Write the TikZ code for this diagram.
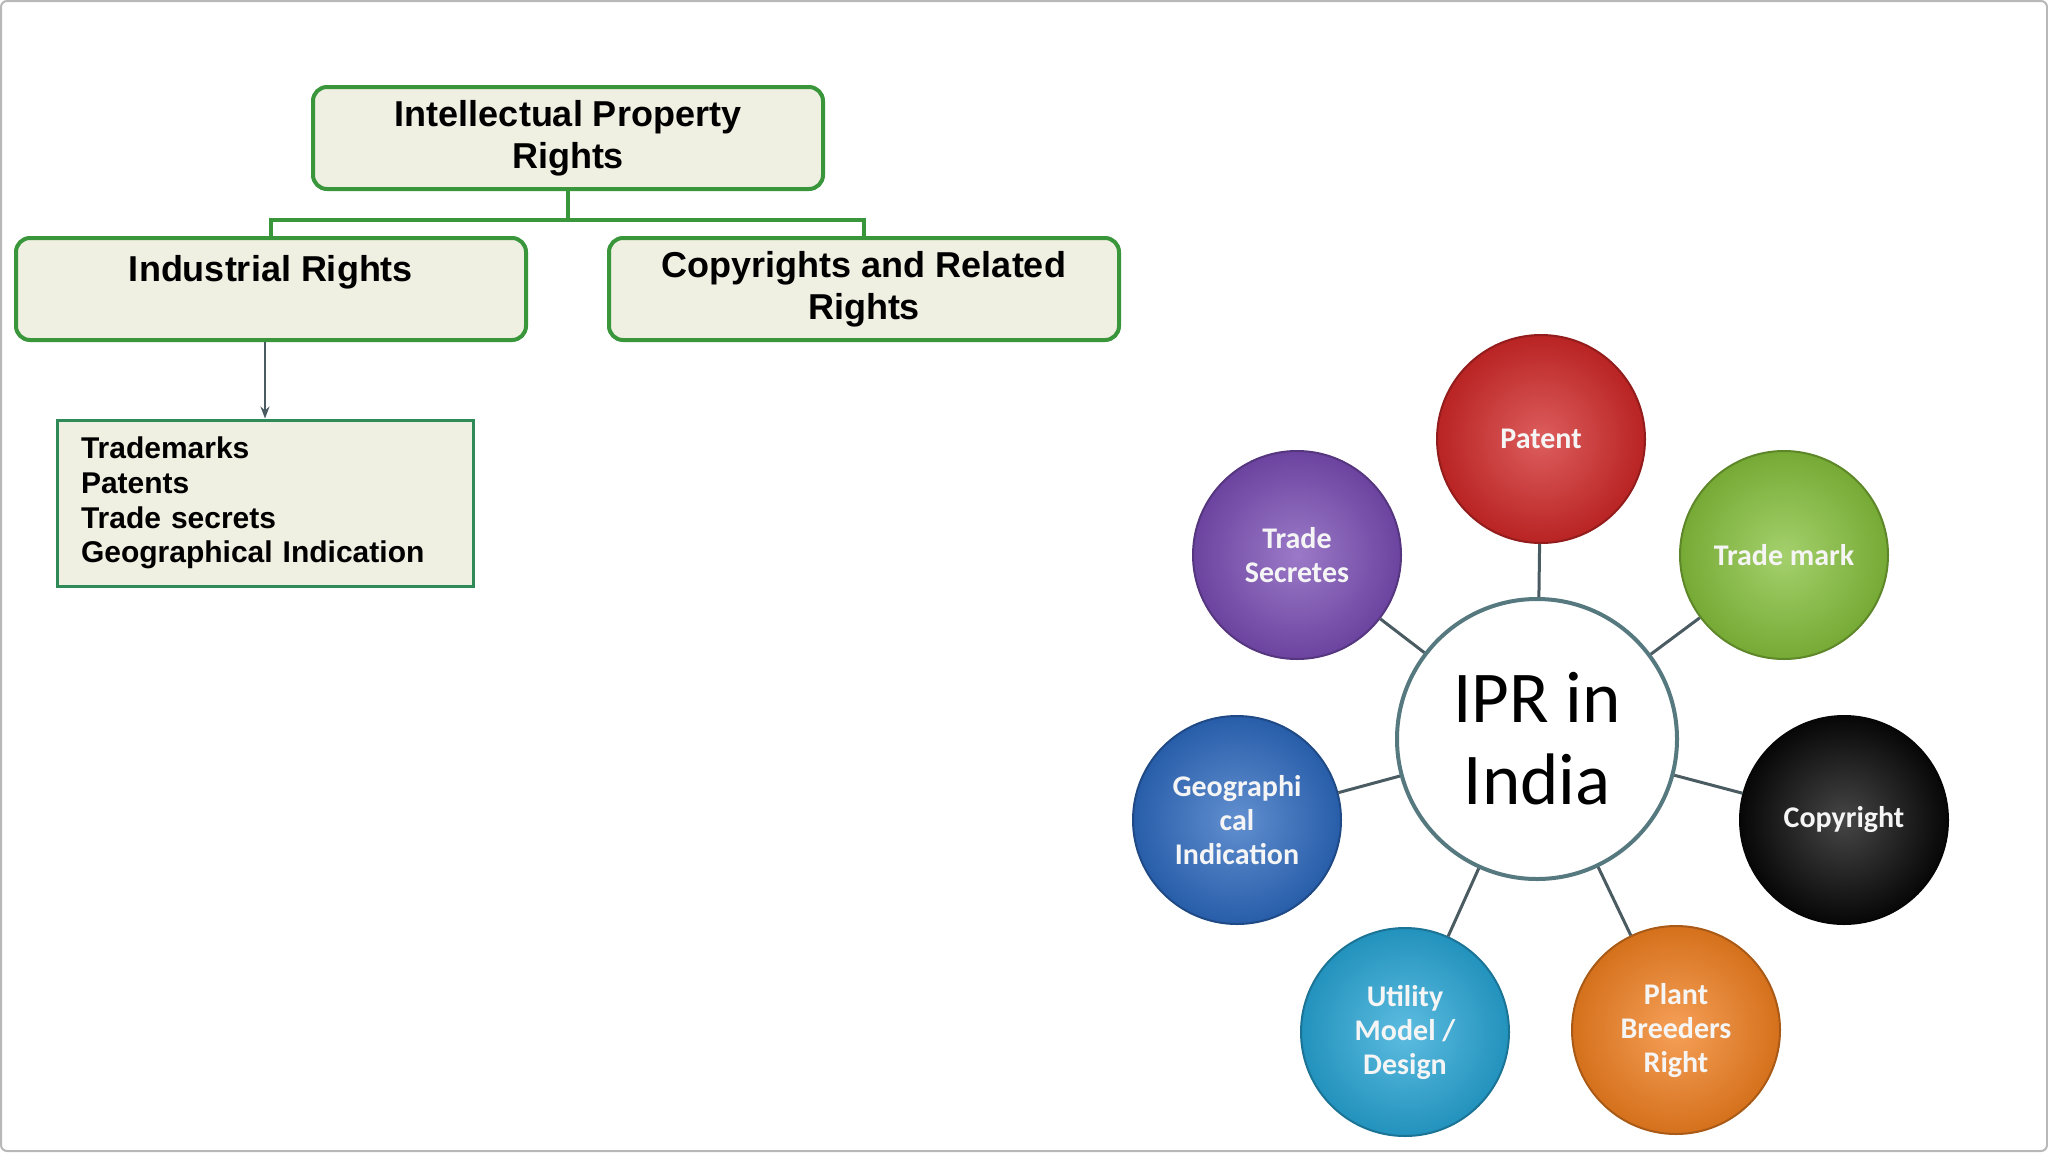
\documentclass[tikz,border=0pt]{standalone}
\usepackage{fontspec}
\setmainfont{Liberation Sans}
\newfontfamily\calfont{Carlito}
\usetikzlibrary{arrows.meta}

\definecolor{boxfill}{HTML}{EFEFE2}
\definecolor{boxgreen}{HTML}{3A963A}
\definecolor{listgreen}{HTML}{2E8B57}
\definecolor{spokegray}{HTML}{4B5B62}
\definecolor{hubrim}{HTML}{56787F}
\definecolor{framegray}{HTML}{B8B8B8}
\definecolor{patentred}{HTML}{D22828}
\definecolor{markgreen}{HTML}{86C13C}
\definecolor{copyblack}{HTML}{080808}
\definecolor{plantorange}{HTML}{F28020}
\definecolor{utilcyan}{HTML}{27A6D6}
\definecolor{geoblue}{HTML}{2D6AC0}
\definecolor{secretpurple}{HTML}{7A4DB5}

\begin{document}
\begin{tikzpicture}[x=1pt, y=-1pt, >=Stealth,
    treebox/.style={draw=boxgreen, line width=4pt, rounded corners=14pt, fill=boxfill,
        minimum width=510pt, minimum height=102pt, align=center,
        font=\fontsize{36}{42}\selectfont\bfseries},
    treelink/.style={draw=boxgreen, line width=4pt},
    ipball/.style={circle, minimum size=208pt, inner sep=0pt, draw=#1!70!black, line width=2pt,
        inner color=#1!75!white, outer color=#1!88!black, text=white!92!gray, align=center,
        font=\calfont\bfseries\fontsize{30}{34}\selectfont},
    spoke/.style={draw=spokegray, line width=3pt}]

    \useasboundingbox (0,0) rectangle (2048,1152);
    \fill[white] (0,0) rectangle (2048,1152);
    \draw[framegray, line width=2pt, rounded corners=6pt] (1,1) rectangle (2047,1151);

    % tree on the left
    \node[treebox] (ipr) at (568,138) {Intellectual Property\\Rights};
    \node[treebox, text depth=42pt] (ind) at (271,289) {Industrial Rights};
    \node[treebox] (copy) at (864,289) {Copyrights and Related\\Rights};

    \draw[treelink] (ipr.south) -- ++(0,29) -| (ind.north);
    \draw[treelink] (ipr.south) -- ++(0,29) -| (copy.north);

    \node[draw=listgreen, line width=3pt, fill=boxfill, minimum width=416pt, minimum height=166pt,
        text width=368pt, align=left, font=\fontsize{30}{34.7}\selectfont\bfseries]
        (list) at (265,503) {Trademarks\\Patents\\Trade secrets\\Geographical Indication};
    \draw[->, spokegray, line width=2pt] (list.north |- ind.south) -- (list.north);

    % IPR in India
    \node[circle, draw=hubrim, line width=4pt, fill=white, minimum size=280pt, align=center,
        font=\calfont\fontsize{73}{82}\selectfont] (hub) at (1537,739) {IPR in\\India};

    \foreach \name/\pos/\col/\txt in {
        patent/{1541,439}/patentred/{Patent},
        mark/{1784,555}/markgreen/{Trade mark},
        copyr/{1844,820}/copyblack/{Copyright},
        plant/{1676,1030}/plantorange/{Plant\\Breeders\\Right},
        utility/{1405,1032}/utilcyan/{Utility\\Model /\\Design},
        geo/{1237,820}/geoblue/{Geographi\\cal\\Indication},
        secret/{1297,555}/secretpurple/{Trade\\Secretes}} {
        \node[ipball=\col] (\name) at (\pos) {\txt};
        \draw[spoke] (hub) -- (\name);
    }
\end{tikzpicture}
\end{document}
